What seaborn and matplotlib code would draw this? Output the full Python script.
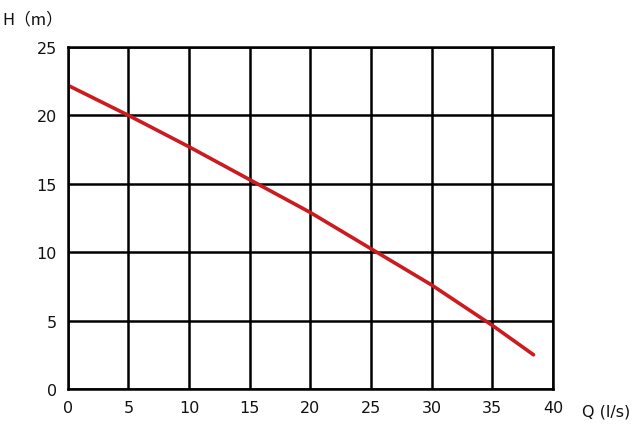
import matplotlib
matplotlib.use("Agg")
import matplotlib.pyplot as plt
import seaborn as sns
import pandas as pd

flow = [0, 5, 10, 15, 20, 25, 30, 35, 38.4]
head = [22.2, 20.0, 17.7, 15.3, 12.9, 10.25, 7.6, 4.65, 2.5]
x_ticks = [0, 5, 10, 15, 20, 25, 30, 35, 40]
y_ticks = [0, 5, 10, 15, 20, 25]

sns.set_theme(style="white")
plt.rcParams['font.family'] = ['DejaVu Sans', 'Noto Sans CJK SC']

df = pd.DataFrame({"Q": flow, "H": head})
fig = plt.figure(figsize=(6.4, 4.39), dpi=100)
ax = fig.add_axes([0.106, 0.1116, 0.758, 0.7791])
sns.lineplot(data=df, x="Q", y="H", ax=ax, color="#cc1a1f", linewidth=2.6)
ax.set_xlim(0, 40)
ax.set_ylim(0, 25)
ax.set_xticks(x_ticks)
ax.set_yticks(y_ticks)
ax.grid(True, color="black", linewidth=1.8)
for s in ax.spines.values():
    s.set_color("black")
    s.set_linewidth(1.8)
ax.tick_params(axis="both", length=0, labelsize=11.5, colors="#111111", pad=8)
ax.set_xlabel("")
ax.set_ylabel("")
fig.text(0.003, 0.955, "H（m）", fontsize=12, family=['Noto Sans CJK SC', 'DejaVu Sans'], va="center", ha="left", color="#111111")
fig.text(0.91, 0.061, "Q (l/s)", fontsize=11.5, va="center", ha="left", color="#111111")
fig.savefig("out.png", dpi=100)
